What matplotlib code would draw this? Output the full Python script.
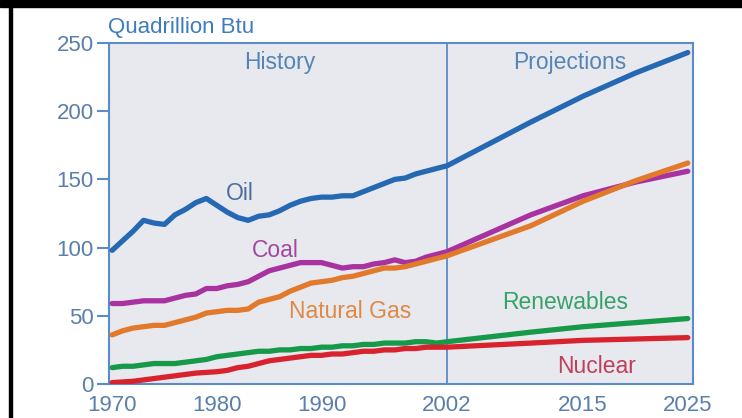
import matplotlib
matplotlib.use("Agg")
import matplotlib.pyplot as plt
import numpy as np

plt.rcParams['font.family'] = ['Liberation Sans', 'DejaVu Sans']

hist_years = list(range(1970, 2003))
proj_years = [2010, 2015, 2020, 2025]
years = hist_years + proj_years

oil = [98, 105, 112, 120, 118, 117, 124, 128, 133, 136, 131, 126, 122, 120, 123, 124, 127,
       131, 134, 136, 137, 137, 138, 138, 141, 144, 147, 150, 151, 154, 156, 158, 160,
       192, 211, 228, 243]
coal = [59, 59, 60, 61, 61, 61, 63, 65, 66, 70, 70, 72, 73, 75, 79, 83, 85,
        87, 89, 89, 89, 87, 85, 86, 86, 88, 89, 91, 89, 90, 93, 95, 97,
        124, 138, 148, 156]
gas = [36, 39, 41, 42, 43, 43, 45, 47, 49, 52, 53, 54, 54, 55, 60, 62, 64,
       68, 71, 74, 75, 76, 78, 79, 81, 83, 85, 85, 86, 88, 90, 92, 94,
       116, 134, 149, 162]
renew = [12, 13, 13, 14, 15, 15, 15, 16, 17, 18, 20, 21, 22, 23, 24, 24, 25,
         25, 26, 26, 27, 27, 28, 28, 29, 29, 30, 30, 30, 31, 31, 30, 31,
         38, 42, 45, 48]
nuclear = [1, 1.5, 2, 3, 4, 5, 6, 7, 8, 8.5, 9, 10, 12, 13, 15, 17, 18,
           19, 20, 21, 21, 22, 22, 23, 24, 24, 25, 25, 26, 26, 27, 27, 27,
           30, 32, 33, 34]

xtick_vals = [1970, 1980, 1990, 2002, 2015, 2025]
ytick_vals = [0, 50, 100, 150, 200, 250]

series = [
    (oil, "#2569b3", "Oil", "#4a6f9c", 1982.2, 140),
    (coal, "#a8329f", "Coal", "#a247a0", 1985.6, 98),
    (gas, "#e27a2b", "Natural Gas", "#dd8a45", 1992.7, 53),
    (renew, "#17994a", "Renewables", "#35a268", 2013.3, 60),
    (nuclear, "#d8232f", "Nuclear", "#c0405a", 2016.3, 13),
]

W, H = 742, 418
fig = plt.figure(figsize=(W / 100, H / 100), dpi=100)
fig.patch.set_facecolor("white")

# screenshot frame
fig.add_artist(plt.Rectangle((0, 1 - 7 / H), 1, 7 / H, transform=fig.transFigure,
                             color="black", zorder=10))
fig.add_artist(plt.Rectangle((9 / W, 0), 3 / W, 1, transform=fig.transFigure,
                             color="black", zorder=10))

left, right, top, bottom = 109, 693, 43, 384
ax = fig.add_axes([left / W, 1 - bottom / H, (right - left) / W, (bottom - top) / H])
ax.set_facecolor("#e8e8ef")
spine_c = "#5b8cc8"
for s in ax.spines.values():
    s.set_color(spine_c)
    s.set_linewidth(1.5)

ax.set_xlim(1969.7, 2025.5)
ax.set_ylim(0, 250)

ax.axvline(2002, color=spine_c, lw=1.3, zorder=1)

for vals, c, name, tc, tx, ty in series:
    ax.plot(years, vals, color=c, lw=3.8, solid_capstyle="round", solid_joinstyle="round", zorder=3)
    ax.text(tx, ty, name, color=tc, fontsize=16.5, ha="center", va="center")

ax.text(1986, 236, "History", color="#5585b5", fontsize=16.5, ha="center", va="center")
ax.text(2013.7, 236, "Projections", color="#5585b5", fontsize=16.5, ha="center", va="center")

tick_c = "#5a7fab"
ax.set_yticks(ytick_vals)
ax.set_yticklabels([str(v) for v in ytick_vals])
ax.set_xticks(xtick_vals)
ax.set_xticklabels([str(v) for v in xtick_vals])
ax.tick_params(axis="y", colors=spine_c, labelcolor=tick_c, labelsize=16,
               length=9, width=1.5, direction="out", pad=2)
ax.tick_params(axis="x", length=0, labelcolor=tick_c, labelsize=16, pad=8)

fig.text(108 / W, 1 - 28 / H, "Quadrillion Btu", color="#3e7cc0", fontsize=16,
         ha="left", va="center")

fig.savefig("out.png", dpi=100)
